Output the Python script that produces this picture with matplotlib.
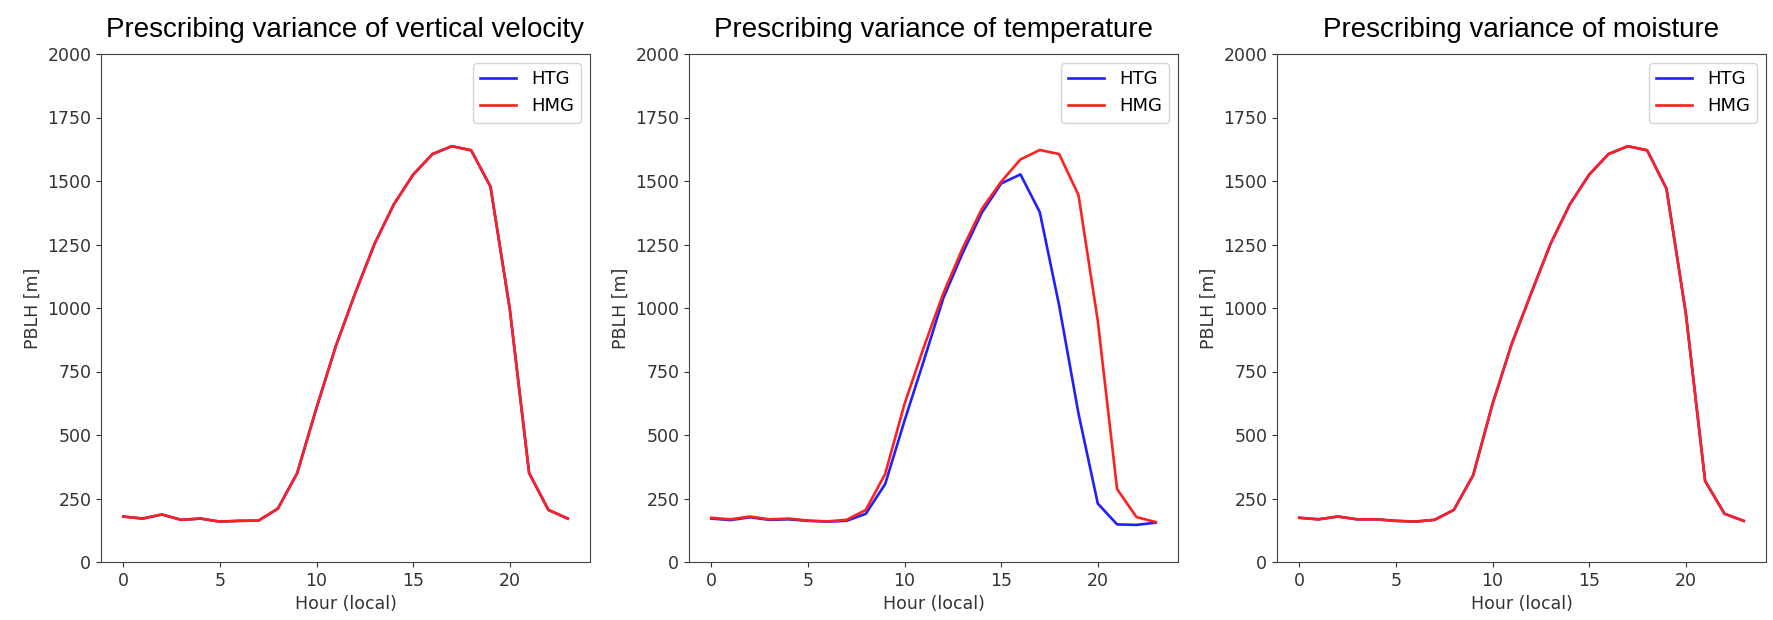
import matplotlib as mpl
import matplotlib.pyplot as plt
import numpy as np

mpl.rcParams.update({'font.size': 12.5})

hours = np.arange(24)

titles = ["Prescribing variance of vertical velocity",
          "Prescribing variance of temperature",
          "Prescribing variance of moisture"]

# PBLH [m]
w_htg = [179, 171, 187, 166, 171, 159, 162, 163, 210, 350, 607, 850,
         1058, 1252, 1408, 1525, 1606, 1637, 1621, 1478, 996, 350, 205, 171]
w_hmg = [179, 171, 187, 166, 171, 159, 162, 163, 210, 350, 607, 850,
         1058, 1252, 1408, 1525, 1606, 1637, 1621, 1478, 996, 350, 205, 171]

t_htg = [171, 165, 176, 166, 168, 162, 159, 162, 190, 307, 556, 793,
         1037, 1215, 1375, 1490, 1526, 1377, 1010, 585, 230, 148, 146, 155]
t_hmg = [174, 168, 179, 168, 171, 163, 160, 166, 205, 347, 622, 846,
         1056, 1234, 1390, 1497, 1585, 1622, 1606, 1445, 949, 287, 177, 157]

q_htg = [174, 168, 179, 168, 168, 162, 159, 166, 205, 342, 622, 860,
         1058, 1252, 1408, 1525, 1606, 1637, 1621, 1470, 980, 319, 190, 162]
q_hmg = [174, 168, 179, 168, 168, 162, 159, 166, 205, 342, 622, 860,
         1058, 1252, 1408, 1525, 1606, 1637, 1621, 1470, 980, 319, 190, 162]

series = [(w_htg, w_hmg), (t_htg, t_hmg), (q_htg, q_hmg)]

fig = plt.figure(figsize=(17.73, 6.2), dpi=100)
lefts = [101/1773, 689/1773, 1277/1773]

for i in range(3):
    ax = fig.add_axes([lefts[i], 58/620, 489/1773, 508/620])
    htg, hmg = series[i]
    ax.plot(hours, htg, color='#2020ff', lw=1.9, label='HTG')
    ax.plot(hours, hmg, color='#ff2020', lw=1.9, label='HMG')
    ax.set_ylim(0, 2000)
    ax.set_yticks(np.arange(0, 2001, 250))
    ax.set_xticks([0, 5, 10, 15, 20])
    ax.set_xlabel('Hour (local)', color='#333333')
    ax.set_ylabel('PBLH [m]', color='#333333')
    ax.tick_params(colors='#333333')
    for s in ax.spines.values():
        s.set_color('#444444')
    ax.legend(loc='upper right', fontsize=13)
    ax.set_title(titles[i], family='Liberation Sans', fontsize=20, pad=12)

plt.savefig('out.png', dpi=100)
